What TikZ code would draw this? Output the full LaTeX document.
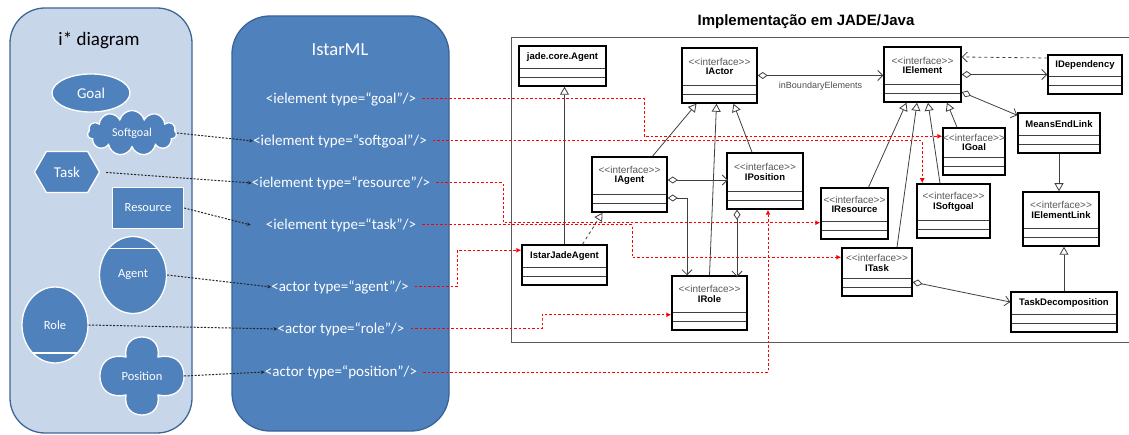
\documentclass[tikz,border=0pt]{standalone}
\usepackage{fontspec}
\setmainfont{Carlito}
\newfontfamily\umlfont{Liberation Sans}
\usetikzlibrary{arrows.meta,shapes.geometric,shapes.symbols}

\definecolor{panelfill}{HTML}{C8D6EA}
\definecolor{paneledge}{HTML}{3E6699}
\definecolor{shapeblue}{HTML}{4F81BD}
\definecolor{mledge}{HTML}{3A6396}
\definecolor{umlline}{HTML}{404040}

\newcommand{\iface}[1]{{\color{black!65}\fontsize{10}{10}\selectfont <\kern0pt<interface>\kern0pt>}\\[-1pt]\textbf{#1}}

\begin{document}
\begin{tikzpicture}[x=1pt, y=-1pt,
    ishape/.style={draw=white, line width=1.3pt, fill=shapeblue, text=white, font=\fontsize{12.5}{14}\selectfont},
    mltext/.style={text=white, font=\fontsize{15}{17}\selectfont, inner sep=0pt},
    umlbox/.style={draw=black, line width=1.5pt, fill=white, inner sep=0pt,
        path picture={\draw[umlline, line width=0.8pt]
            ([yshift=9pt]path picture bounding box.south west) -- ([yshift=9pt]path picture bounding box.south east)
            ([yshift=18pt]path picture bounding box.south west) -- ([yshift=18pt]path picture bounding box.south east);}},
    umlname/.style={font=\umlfont\fontsize{9.5}{10.5}\selectfont, align=center, yshift=9pt, inner sep=0pt},
    gen/.style={draw=umlline, line width=0.8pt, -{Triangle[open, length=8pt, width=9pt]}},
    aggr/.style={draw=umlline, line width=0.8pt, {Diamond[open, length=10pt, width=7pt]}-{Straight Barb[length=5pt, width=10pt]}},
    mapto/.style={draw=black!85, dash pattern=on 2pt off 1.5pt, line width=1pt, -{Stealth[length=4pt, width=3.5pt]}},
    implto/.style={draw=red, dash pattern=on 2.5pt off 2pt, line width=1pt, shorten <=6pt, -{Latex[length=5pt, width=5pt]}},
]
    \useasboundingbox (0,0) rectangle (1129,435);

    % the two panels
    \draw[fill=panelfill, draw=paneledge, line width=1.3pt, rounded corners=35pt] (10,8) rectangle (192,433);
    \draw[fill=shapeblue, draw=mledge, line width=1.3pt, rounded corners=38pt] (232,16) rectangle (449,431);

    \node[font=\fontsize{19}{21}\selectfont] (istartitle) at (99,40) {i* diagram};
    \node[text=white, font=\fontsize{18.5}{20}\selectfont] (mltitle) at (340,50) {IstarML};

    % i* elements
    \node[ishape, ellipse, minimum width=78pt, minimum height=38pt, font=\fontsize{15}{17}\selectfont] (goal) at (91,93) {Goal};
    \node[ishape, cloud, cloud puffs=11, aspect=2, minimum width=89pt, minimum height=45pt, inner sep=0pt, font=\fontsize{12}{14}\selectfont] (softgoal) at (132,133) {Softgoal};
    \node[ishape, signal, signal to=east and west, signal pointer angle=120, minimum width=65pt, minimum height=41pt, font=\fontsize{15}{17}\selectfont] (task) at (67,172) {Task};
    \node[ishape, rectangle, minimum width=71pt, minimum height=41pt] (resource) at (148,208) {Resource};
    \node[ishape, ellipse, minimum width=67pt, minimum height=77pt,
        path picture={\draw[white, line width=1.3pt] ([yshift=-12pt]path picture bounding box.north west) -- ([yshift=-12pt]path picture bounding box.north east);}] (agent) at (133,275) {Agent};
    \node[ishape, ellipse, minimum width=66pt, minimum height=76pt,
        path picture={\draw[white, line width=1.3pt] ([yshift=10pt]path picture bounding box.south west) -- ([yshift=10pt]path picture bounding box.south east);}] (role) at (55,325) {Role};
    \coordinate (posc) at (142,376);
    \filldraw[draw=white, line width=1.3pt, fill=shapeblue, shift={(posc)}]
        (42,0) .. controls (42,-16) and (30,-22) .. (16,-19)
        .. controls (18,-32) and (10,-39) .. (0,-39)
        .. controls (-10,-39) and (-18,-32) .. (-16,-19)
        .. controls (-30,-22) and (-42,-16) .. (-42,0)
        .. controls (-42,16) and (-30,22) .. (-16,19)
        .. controls (-18,32) and (-10,39) .. (0,39)
        .. controls (10,39) and (18,32) .. (16,19)
        .. controls (30,22) and (42,16) .. (42,0) -- cycle;
    \node[text=white, font=\fontsize{12.5}{14}\selectfont, minimum width=84pt, inner sep=0pt] (position) at (posc) {Position};

    % IstarML tags
    \node[mltext] (goalx) at (341,99) {<ielement type=“goal”/>};
    \node[mltext] (softgoalx) at (340,141) {<ielement type=“softgoal”/>};
    \node[mltext] (resourcex) at (341,183) {<ielement type=“resource”/>};
    \node[mltext] (taskx) at (341,225) {<ielement type=“task”/>};
    \node[mltext] (agentx) at (340,287) {<actor type=“agent”/>};
    \node[mltext] (rolex) at (341,329) {<actor type=“role”/>};
    \node[mltext] (positionx) at (341,372) {<actor type=“position”/>};

    \draw[mapto] (softgoal.east) -- (softgoalx.west);
    \draw[mapto, shorten <=6pt] (task.east) -- (resourcex.west);
    \draw[mapto] (resource.east) -- ([xshift=-15pt]taskx.west);
    \draw[mapto] (agent.east) -- (agentx.west);
    \draw[mapto] (role.east) -- (rolex.west);
    \draw[mapto] (position.east) -- (positionx.west);

    % JADE side
    \node[font=\umlfont\bfseries\fontsize{15}{17}\selectfont] (jadetitle) at (806,22) {Implementação em JADE/Java};
    \draw[black!65, line width=1pt] (1129,38) -- (511,38) -- (511,342) -- (1129,342);

    \node[umlbox, minimum width=87pt, minimum height=40pt, label={[umlname]center:\textbf{jade.core.Agent}}] (jade) at (562.5,66) {};
    \node[umlbox, minimum width=75pt, minimum height=55pt, label={[umlname]center:\iface{IActor}}] (IActor) at (719.5,75.5) {};
    \node[umlbox, minimum width=77pt, minimum height=55pt, label={[umlname]center:\iface{IElement}}] (IElement) at (922.5,74.5) {};
    \node[umlbox, minimum width=74pt, minimum height=39pt, label={[umlname]center:\textbf{IDependency}}] (IDependency) at (1085,74.5) {};
    \node[umlbox, minimum width=82pt, minimum height=40pt, label={[umlname]center:\textbf{MeansEndLink}}] (MeansEndLink) at (1059,133) {};
    \node[umlbox, minimum width=62pt, minimum height=47pt, label={[umlname]center:\iface{IGoal}}] (IGoal) at (974,151.5) {};
    \node[umlbox, minimum width=75pt, minimum height=55pt, label={[umlname]center:\iface{IAgent}}] (IAgent) at (629.5,184.5) {};
    \node[umlbox, minimum width=76pt, minimum height=56pt, label={[umlname]center:\iface{IPosition}}] (IPosition) at (765,181) {};
    \node[umlbox, minimum width=85pt, minimum height=40pt, label={[umlname]center:\textbf{IstarJadeAgent}}] (IstarJadeAgent) at (564.5,265) {};
    \node[umlbox, minimum width=75pt, minimum height=54pt, label={[umlname]center:\iface{IRole}}] (IRole) at (709.5,303) {};
    \node[umlbox, minimum width=67pt, minimum height=51pt, label={[umlname]center:\iface{IResource}}] (IResource) at (854.5,213.5) {};
    \node[umlbox, minimum width=73pt, minimum height=54pt, label={[umlname]center:\iface{ISoftgoal}}] (ISoftgoal) at (953.5,211) {};
    \node[umlbox, minimum width=70pt, minimum height=48pt, label={[umlname]center:\iface{ITask}}] (ITask) at (877,272) {};
    \node[umlbox, minimum width=76pt, minimum height=54pt, label={[umlname]center:\iface{IElementLink}}] (IElementLink) at (1061,219) {};
    \node[umlbox, minimum width=106pt, minimum height=40pt, label={[umlname]center:\textbf{TaskDecomposition}}] (TaskDecomposition) at (1064,312) {};

    % generalizations
    \draw[gen] (IstarJadeAgent.north) -- (IstarJadeAgent.north |- jade.south);
    \draw[gen, dashed] ([xshift=18pt]IstarJadeAgent.north) -- ([xshift=-27pt]IAgent.south);
    \draw[gen] ([xshift=23pt]IAgent.north) -- ([xshift=-23pt]IActor.south);
    \draw[gen] (IRole.north) -- ([xshift=-3pt]IActor.south);
    \draw[gen] ([xshift=-13pt]IPosition.north) -- ([xshift=14pt]IActor.south);
    \draw[gen] ([xshift=14pt]IResource.north) -- ([xshift=-16pt]IElement.south);
    \draw[gen] ([xshift=20pt]ITask.north) -- ([xshift=-5.5pt]IElement.south);
    \draw[gen] ([xshift=-13.5pt]ISoftgoal.north) -- ([xshift=5.5pt]IElement.south);
    \draw[gen] ([xshift=-17pt]IGoal.north) -- ([xshift=24.5pt]IElement.south);
    \draw[gen] (MeansEndLink.south) -- (MeansEndLink.south |- IElementLink.north);
    \draw[gen] (TaskDecomposition.north) -- (TaskDecomposition.north |- IElementLink.south);

    % associations
    \draw[aggr] ([yshift=4.5pt]IAgent.east) -- ++(60,0);
    \draw[aggr] ([yshift=-13.5pt]IAgent.east) -| ([xshift=-22.5pt]IRole.north);
    \draw[aggr] ([xshift=-28pt]IPosition.south) -- ++(0,67);
    \draw[aggr] (IActor.east) -- (IActor.east -| IElement.west)
        node[midway, below=3pt, font=\umlfont\fontsize{9}{10}\selectfont, text=black!70] (boundary) {inBoundaryElements};
    \draw[aggr] (IElement.east) -- (IElement.east -| IDependency.west);
    \draw[aggr] ([yshift=-17.5pt]IElement.east) -- ([yshift=-3pt]MeansEndLink.north west);
    \draw[aggr] ([yshift=-10pt]ITask.east) -- ([yshift=10pt]TaskDecomposition.west);
    \draw[draw=umlline, line width=0.8pt, dashed, -{Straight Barb[length=5pt, width=10pt]}] ([yshift=16.5pt]IDependency.west) -- ([yshift=17.5pt]IElement.east);

    % IstarML to JADE
    \draw[implto] (goalx.east) -| (644,120) |- ([yshift=-9pt]IGoal.north west);
    \draw[implto] (softgoalx.east) -| ([xshift=6pt]ISoftgoal.north west);
    \draw[implto] (resourcex.east) -| (503,200) |- ([yshift=17pt]IResource.south west);
    \draw[implto] (taskx.east) -| (632,240) |- ([yshift=-10pt]ITask.north west);
    \draw[implto] (agentx.east) -| (457,270) |- ([yshift=-6pt]IstarJadeAgent.north west);
    \draw[implto] (rolex.east) -| (542,320) |- ([yshift=16pt]IRole.south west);
    \draw[implto] (positionx.east) -| ([xshift=3pt]IPosition.south);
\end{tikzpicture}
\end{document}
